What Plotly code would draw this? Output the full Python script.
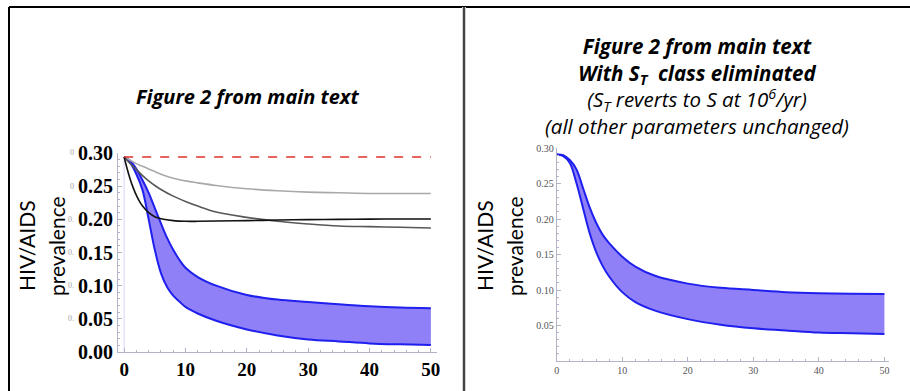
import plotly.graph_objects as go

# ---------------- left panel: Figure 2 from main text ----------------
t_slow = [0, 1, 2, 3, 4, 5, 6, 8, 10, 12, 15, 20, 25, 30, 35, 40, 45, 50]
light_gray = [0.294, 0.289, 0.284, 0.280, 0.276, 0.272, 0.268, 0.262, 0.258,
              0.255, 0.251, 0.246, 0.243, 0.241, 0.240, 0.239, 0.239, 0.239]
dark_gray = [0.294, 0.284, 0.275, 0.266, 0.258, 0.251, 0.245, 0.235, 0.227,
             0.220, 0.211, 0.203, 0.197, 0.193, 0.190, 0.189, 0.188, 0.187]

t_black = [0, 0.5, 1, 1.5, 2, 2.5, 3, 4, 5, 6, 8, 10, 12, 15, 20, 25, 30, 35, 40, 45, 50]
black = [0.294, 0.276, 0.260, 0.247, 0.236, 0.227, 0.220, 0.210, 0.204, 0.201,
         0.198, 0.197, 0.197, 0.1975, 0.198, 0.199, 0.1995, 0.200, 0.2003, 0.2005, 0.2006]

t_band = [0, 1, 2, 3, 4, 5, 6, 7, 8, 9, 10, 12, 15, 20, 25, 30, 35, 40, 45, 50]
left_upper = [0.294, 0.288, 0.276, 0.259, 0.240, 0.217, 0.194, 0.172, 0.154, 0.139,
              0.127, 0.113, 0.100, 0.086, 0.079, 0.0755, 0.072, 0.069, 0.067, 0.066]
left_lower = [0.294, 0.285, 0.268, 0.244, 0.200, 0.154, 0.119, 0.098, 0.085, 0.076,
              0.068, 0.058, 0.047, 0.034, 0.025, 0.019, 0.016, 0.013, 0.0115, 0.0106]

baseline_level = 0.294          # red dashed reference level
left_ticks = [0.00, 0.05, 0.10, 0.15, 0.20, 0.25, 0.30]
left_tick_text = ["0.00", "0.05", "0.10", "0.15", "0.20", "0.25", "0.30"]
left_ghost_text = ["0.", "0.", "0.", "0.", "0.", "0", "0"]

# ---------------- right panel: S_T class eliminated ----------------
t_right = [0, 1, 2, 3, 4, 5, 6, 7, 8, 10, 12, 15, 20, 25, 30, 35, 40, 45, 50]
right_upper = [0.291, 0.290, 0.283, 0.270, 0.244, 0.217, 0.195, 0.178, 0.166, 0.147,
               0.133, 0.120, 0.109, 0.103, 0.100, 0.097, 0.0955, 0.0948, 0.0945]
right_lower = [0.291, 0.2887, 0.279, 0.251, 0.216, 0.181, 0.154, 0.134, 0.119, 0.097,
               0.083, 0.071, 0.059, 0.051, 0.046, 0.043, 0.040, 0.039, 0.038]
right_ticks = [0.05, 0.10, 0.15, 0.20, 0.25, 0.30]
right_tick_text = ["0.05", "0.10", "0.15", "0.20", "0.25", "0.30"]

x_ticks = [0, 10, 20, 30, 40, 50]

right_title_lines = [
    "<b><i>Figure 2 from main text</i></b>",
    "<b><i>With S<sub>T</sub>  class eliminated</i></b>",
    "<i>(S<sub>T</sub> reverts to S at 10<sup>6</sup>/yr)</i>",
    "<i>(all other parameters unchanged)</i>",
]

W, H = 910, 391
BLUE = "#1f1fee"
FILL = "rgb(143,128,247)"
AXIS = "#b4b4c8"


def px(x):
    return x / W


def py(y):
    return 1 - y / H


fig = go.Figure()

# left panel traces
fig.add_trace(go.Scatter(x=[0, 0], y=[0, baseline_level], mode="lines",
                         line=dict(color="#d4d4fa", width=1), xaxis="x", yaxis="y",
                         hoverinfo="skip"))
fig.add_trace(go.Scatter(x=t_band, y=left_lower, mode="lines", line_shape="spline",
                         line=dict(color=BLUE, width=2), xaxis="x", yaxis="y"))
fig.add_trace(go.Scatter(x=t_band, y=left_upper, mode="lines", line_shape="spline",
                         line=dict(color=BLUE, width=2), fill="tonexty", fillcolor=FILL,
                         xaxis="x", yaxis="y"))
fig.add_trace(go.Scatter(x=t_slow, y=light_gray, mode="lines", line_shape="spline",
                         line=dict(color="#a9a9a9", width=1.6), xaxis="x", yaxis="y"))
fig.add_trace(go.Scatter(x=t_slow, y=dark_gray, mode="lines", line_shape="spline",
                         line=dict(color="#575757", width=1.6), xaxis="x", yaxis="y"))
fig.add_trace(go.Scatter(x=t_black, y=black, mode="lines", line_shape="spline",
                         line=dict(color="#111111", width=1.6), xaxis="x", yaxis="y"))
fig.add_trace(go.Scatter(x=[0, 50], y=[baseline_level, baseline_level], mode="lines",
                         line=dict(color="#e0302a", width=1.6, dash="dash"),
                         xaxis="x", yaxis="y"))

# right panel traces
fig.add_trace(go.Scatter(x=t_right, y=right_lower, mode="lines", line_shape="spline",
                         line=dict(color=BLUE, width=2), xaxis="x2", yaxis="y2"))
fig.add_trace(go.Scatter(x=t_right, y=right_upper, mode="lines", line_shape="spline",
                         line=dict(color=BLUE, width=2), fill="tonexty", fillcolor=FILL,
                         xaxis="x2", yaxis="y2"))

common_axis = dict(showgrid=False, zeroline=False, showline=True, linecolor=AXIS,
                   linewidth=1, ticks="inside", tickcolor=AXIS, ticklen=4,
                   automargin=False)

fig.update_layout(
    width=W, height=H,
    margin=dict(l=0, r=0, t=0, b=0, pad=0, autoexpand=False),
    paper_bgcolor="white", plot_bgcolor="white",
    showlegend=False,
    xaxis=dict(**common_axis, domain=[px(118), px(437)], range=[-1, 51],
               tickvals=x_ticks, ticktext=[str(v) for v in x_ticks],
               tickfont=dict(family="Liberation Serif", size=19, color="black", weight="bold"),
               minor=dict(dtick=2, ticks="inside", ticklen=2, tickcolor=AXIS),
               anchor="y"),
    yaxis=dict(**common_axis, domain=[py(352), py(153)], range=[0, 0.30],
               tickvals=left_ticks, ticktext=left_tick_text,
               tickfont=dict(family="Liberation Serif", size=20, color="black", weight="bold"),
               minor=dict(dtick=0.01, ticks="inside", ticklen=2, tickcolor=AXIS),
               anchor="x"),
    xaxis2=dict(**common_axis, domain=[px(556.7), px(889)], range=[0, 50.7],
                tickvals=x_ticks, ticktext=[str(v) for v in x_ticks],
                tickfont=dict(family="Liberation Serif", size=10, color="#555555"),
                minor=dict(dtick=2, ticks="inside", ticklen=2, tickcolor=AXIS),
                anchor="y2"),
    yaxis2=dict(**common_axis, domain=[py(361), py(148)], range=[0, 0.30],
                tickvals=right_ticks, ticktext=right_tick_text,
                tickfont=dict(family="Liberation Serif", size=10, color="#555555"),
                minor=dict(dtick=0.01, ticks="inside", ticklen=2, tickcolor=AXIS),
                anchor="x2"),
)

TITLE_FONT = "Open Sans"
ann = []
# panel titles
ann.append(dict(x=px(248), y=py(97), text="<b><i>Figure 2 from main text</i></b>",
                font=dict(family=TITLE_FONT, size=20, color="black")))
ann.append(dict(x=px(697), y=py(86.5), text="<br>".join(right_title_lines),
                font=dict(family=TITLE_FONT, size=20.5, color="black")))
# y-axis titles
for xc in (27, 485):
    ann.append(dict(x=px(xc), y=py(246), text="HIV/AIDS", textangle=-90,
                    font=dict(family="Lato", size=21, color="black")))
for xc in (57, 515):
    ann.append(dict(x=px(xc), y=py(246), text="prevalence", textangle=-90,
                    font=dict(family="Lato", size=21, color="black")))
# faint leftover small tick numerals beside the bold left labels
for val, txt in zip(left_ticks, left_ghost_text):
    if val == 0:
        continue
    ann.append(dict(x=px(76), y=val, yref="y", text=txt, xanchor="right",
                    font=dict(family="Liberation Serif", size=8, color="#a0a0a0")))

for a in ann:
    a.setdefault("xref", "paper")
    a.setdefault("yref", "paper")
    a.setdefault("showarrow", False)
    a.setdefault("xanchor", "center")
    a.setdefault("yanchor", "middle")
fig.update_layout(annotations=ann)

# frame lines around and between the panels
shapes = [
    dict(type="line", x0=px(9), x1=1, y0=py(7), y1=py(7), line=dict(color="black", width=2)),
    dict(type="line", x0=px(9), x1=px(9), y0=py(7), y1=0, line=dict(color="black", width=2)),
    dict(type="line", x0=px(464), x1=px(464), y0=py(7), y1=0, line=dict(color="#d0d0d0", width=4)),
    dict(type="line", x0=px(464), x1=px(464), y0=py(7), y1=0, line=dict(color="#444444", width=2)),
]
for s in shapes:
    s["xref"] = "paper"
    s["yref"] = "paper"
fig.update_layout(shapes=shapes)

fig.write_html("out.html")
